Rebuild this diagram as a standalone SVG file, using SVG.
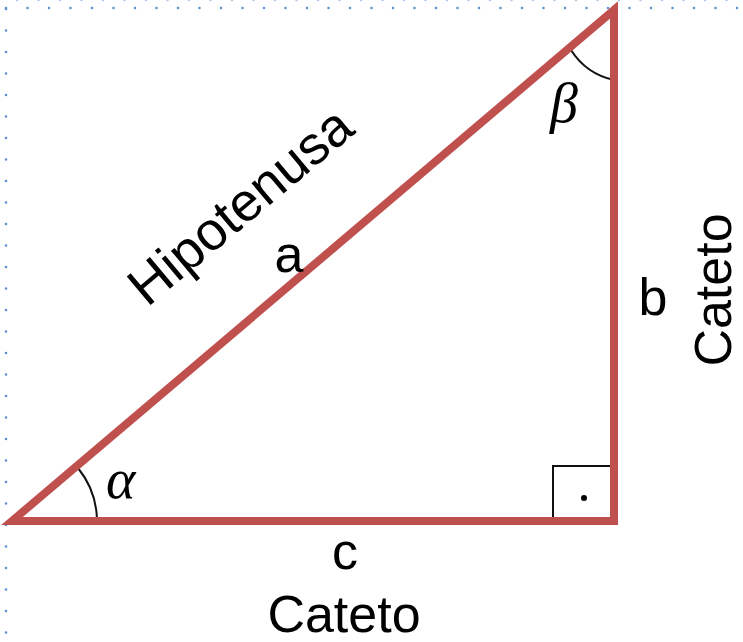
<svg xmlns="http://www.w3.org/2000/svg" width="743" height="642" viewBox="0 0 743 642">
<style>
.dots{stroke:#5b8fd6;stroke-width:2.6;stroke-linecap:round;stroke-dasharray:0 21.5;fill:none}
.side{stroke:#c0504d;stroke-width:8;fill:none;stroke-linecap:square}
.thin{stroke:#111;stroke-width:2;fill:none}
.lbl{font-family:"Liberation Sans",Arial,sans-serif;font-size:52px;fill:#000}
.greek{font-family:"Liberation Serif","Times New Roman",serif;font-style:italic;font-size:56px;fill:#000}
</style>
<rect width="743" height="642" fill="#fff"/>
<g id="border">
<line class="dots" x1="6" y1="9" x2="6" y2="642"/>
<line class="dots" x1="6" y1="8" x2="743" y2="8"/>
<line class="dots" x1="17" y1="0" x2="743" y2="0" opacity="0.5"/>
</g>
<g id="connectors">
<path class="thin" d="M553 521 V466 H612"/>
<circle cx="584" cy="498" r="3" fill="#000"/>
<path class="thin" d="M78 468 A85 85 0 0 1 97 521"/>
<path class="thin" d="M571 50 A68 68 0 0 0 614 80"/>
</g>
<g id="triangle">
<path class="side" d="M12 521 L614 521 L614 10 Z" stroke-linejoin="miter"/>
</g>
<g id="labels">
<text class="lbl" transform="translate(252,220) rotate(-40)" text-anchor="middle" style="font-size:54px">Hipotenusa</text>
<text class="lbl" x="289" y="272" text-anchor="middle">a</text>
<text class="lbl" x="653" y="315" text-anchor="middle">b</text>
<text class="lbl" x="345" y="569" text-anchor="middle">c</text>
<text class="lbl" x="344" y="632" text-anchor="middle">Cateto</text>
<text class="lbl" transform="translate(731,290) rotate(-90)" text-anchor="middle">Cateto</text>
<text class="greek" x="106" y="498">α</text>
<text class="greek" x="550" y="122">β</text>
</g>
</svg>
